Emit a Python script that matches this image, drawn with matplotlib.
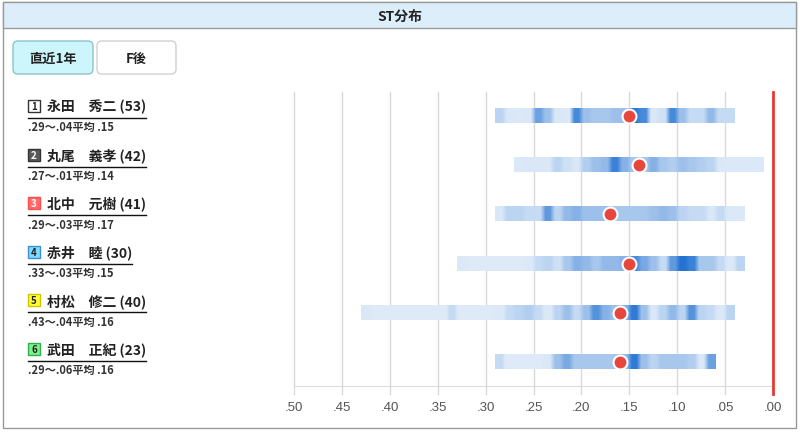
import numpy as np
import matplotlib.pyplot as plt
from matplotlib.colors import LinearSegmentedColormap
from matplotlib.patches import Rectangle, FancyBboxPatch

plt.rcParams['font.family'] = ['Noto Sans CJK JP', 'DejaVu Sans']

# racers
numbers = [1, 2, 3, 4, 5, 6]
names = ['永田　秀二', '丸尾　義孝', '北中　元樹', '赤井　睦', '村松　修二', '武田　正紀']
counts = [53, 42, 41, 30, 40, 23]
st_slow = [0.29, 0.27, 0.29, 0.33, 0.43, 0.29]
st_fast = [0.04, 0.01, 0.03, 0.03, 0.04, 0.06]
st_avg = [0.15, 0.14, 0.17, 0.15, 0.16, 0.16]

# density per .01 bin, from slowest to fastest
density_1 = [0.35, 0.2, 0.15, 0.2, 0.7, 0.5, 0.2, 0.15, 0.85, 0.5, 0.45, 0.45, 0.5,
             0.5, 0.95, 0.85, 0.2, 0.25, 0.85, 0.5, 0.3, 0.3, 0.55, 0.3, 0.3]
density_2 = [0.15, 0.2, 0.2, 0.2, 0.35, 0.25, 0.2, 0.4, 0.5, 0.55, 0.9, 0.6, 0.45,
             0.45, 0.6, 0.45, 0.4, 0.5, 0.45, 0.4, 0.35, 0.2, 0.15, 0.15, 0.15, 0.15]
density_3 = [0.2, 0.35, 0.35, 0.3, 0.3, 0.75, 0.35, 0.55, 0.6, 0.5, 0.5, 0.5, 0.45,
             0.45, 0.45, 0.45, 0.5, 0.55, 0.5, 0.35, 0.3, 0.3, 0.2, 0.3, 0.15, 0.15]
density_4 = [0.15, 0.1, 0.1, 0.1, 0.1, 0.1, 0.1, 0.15, 0.3, 0.35, 0.25, 0.45, 0.6,
             0.55, 0.45, 0.55, 0.55, 0.6, 0.85, 0.65, 0.5, 0.3, 0.75, 1.0, 0.9, 0.45,
             0.45, 0.3, 0.15, 0.35]
density_5 = [0.2, 0.1, 0.1, 0.1, 0.1, 0.1, 0.1, 0.1, 0.1, 0.3, 0.1, 0.1, 0.1, 0.1,
             0.15, 0.3, 0.35, 0.4, 0.3, 0.15, 0.35, 0.5, 0.3, 0.5, 0.8, 0.6, 0.5,
             0.6, 0.95, 0.5, 0.2, 0.35, 0.55, 0.35, 0.8, 0.35, 0.3, 0.15, 0.35]
density_6 = [0.3, 0.1, 0.1, 0.1, 0.1, 0.2, 0.5, 0.65, 0.45, 0.45, 0.45, 0.45, 0.45,
             0.55, 0.95, 0.5, 0.35, 0.45, 0.45, 0.45, 0.4, 0.2, 0.7]
densities = [density_1, density_2, density_3, density_4, density_5, density_6]

box_faces = ['#ffffff', '#5a5a5a', '#ff6b6b', '#7fdcff', '#ffff3a', '#7ef08e']
box_edges = ['#333333', '#333333', '#ff4d4d', '#3a8fd8', '#d4c200', '#2fb04a']
box_text = ['#222222', '#ffffff', '#ffffff', '#222222', '#222222', '#222222']

ticks = [0.50, 0.45, 0.40, 0.35, 0.30, 0.25, 0.20, 0.15, 0.10, 0.05, 0.00]
tick_labels = ['.50', '.45', '.40', '.35', '.30', '.25', '.20', '.15', '.10', '.05', '.00']

W, H = 801, 435
fig = plt.figure(figsize=(W / 100, H / 100), dpi=100)

# background / frame in pixel coords
bg = fig.add_axes([0, 0, 1, 1])
bg.set_xlim(0, W)
bg.set_ylim(H, 0)
bg.axis('off')

bg.add_patch(Rectangle((3, 3), 793, 426, facecolor='white', edgecolor='#9a9a9a', lw=1))
bg.add_patch(Rectangle((3, 3), 793, 26, facecolor='#ddeefb', edgecolor='#9a9a9a', lw=1))
bg.text(400, 16.5, 'ST分布', ha='center', va='center', fontsize=10, fontweight='bold', color='#222')

bg.add_patch(FancyBboxPatch((13, 42), 80, 33, boxstyle='round,pad=0,rounding_size=5',
                            facecolor='#ccf6fb', edgecolor='#8cc4ca', lw=1))
bg.text(53, 58.5, '直近1年', ha='center', va='center', fontsize=9.5, fontweight='bold', color='#222')
bg.add_patch(FancyBboxPatch((97, 42), 79, 33, boxstyle='round,pad=0,rounding_size=5',
                            facecolor='white', edgecolor='#d0d0d0', lw=1))
bg.text(136.5, 58.5, 'F後', ha='center', va='center', fontsize=9.5, fontweight='bold', color='#222')

fig.canvas.draw()
renderer = fig.canvas.get_renderer()
inv = bg.transData.inverted()

for i in range(6):
    y = 107 + 48.6 * i
    bg.add_patch(Rectangle((28, y - 6), 12, 12, facecolor=box_faces[i], edgecolor=box_edges[i], lw=1))
    bg.text(34, y, str(numbers[i]), ha='center', va='center', fontsize=7, fontweight='bold',
            color=box_text[i])
    t = bg.text(47, y, f'{names[i]} ({counts[i]})', ha='left', va='center',
                fontsize=10, fontweight='bold', color='#222')
    ext = t.get_window_extent(renderer)
    x_end = inv.transform((ext.x1, ext.y0))[0]
    bg.plot([28, x_end], [y + 12, y + 12], color='#111', lw=1)
    sub = f'.{round(st_slow[i] * 100):02d}〜.{round(st_fast[i] * 100):02d}平均 .{round(st_avg[i] * 100):02d}'
    bg.text(28, y + 21, sub, ha='left', va='center', fontsize=8, fontweight='bold', color='#333')

# chart area
ax = fig.add_axes([294 / W, (H - 387) / H, 479 / W, 294 / H])
ax.patch.set_alpha(0)

cmap = LinearSegmentedColormap.from_list(
    'st', [(0, '#e3edf9'), (0.2, '#d9e7f7'), (0.5, '#9ec1eb'), (1, '#2473d3')])
bar_h = 0.285
for i in range(6):
    d = np.repeat(np.array(densities[i]), 2)[None, :]
    ax.imshow(d, cmap=cmap, vmin=0, vmax=1, aspect='auto', interpolation='bilinear',
              extent=(st_slow[i], st_fast[i], i + bar_h / 2, i - bar_h / 2), zorder=2)
    ax.plot(st_avg[i], i, 'o', ms=10, mfc='#e8453c', mec='white', mew=1.5, zorder=5)

for v in ticks[:-1]:
    ax.plot([v, v], [-0.49, 5.65], color='#d9d9d9', lw=1, clip_on=False, zorder=0)
ax.plot([0, 0], [-0.49, 5.65], color='#e53935', lw=2, clip_on=False, zorder=6)

ax.set_xlim(0.5, 0.0)
ax.set_ylim(5.49, -0.49)
ax.set_yticks([])
ax.set_xticks(ticks)
ax.set_xticklabels(tick_labels, fontsize=9.5, color='#555', family='Liberation Sans')
ax.tick_params(axis='x', length=0, pad=11)
for s in ['top', 'left', 'right']:
    ax.spines[s].set_visible(False)
ax.spines['bottom'].set_color('#dcdcdc')

fig.savefig('out.png', dpi=100)
